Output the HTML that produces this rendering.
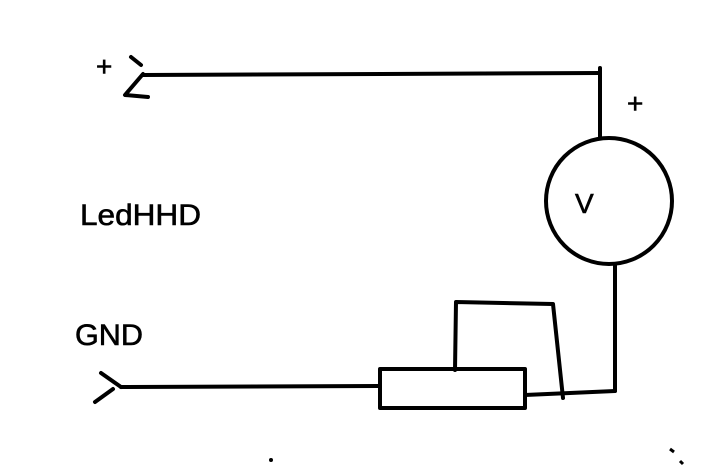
<!DOCTYPE html><html><head><style>body{margin:0;background:#fff}svg{display:block}</style></head><body>
<svg width="717" height="474" viewBox="0 0 717 474" xmlns="http://www.w3.org/2000/svg">
<g stroke="#000" stroke-width="4" fill="none" stroke-linecap="round" stroke-linejoin="round">
<line x1="131" y1="57" x2="141" y2="65"/>
<polyline points="143,74 125,95 148,97"/>
<line x1="143" y1="75" x2="600" y2="73"/>
<line x1="600" y1="68" x2="600" y2="138"/>
<circle cx="609" cy="201" r="63"/>
<line x1="615" y1="264" x2="615" y2="391"/>
<line x1="101" y1="373" x2="121" y2="387"/>
<line x1="95" y1="402" x2="113" y2="389"/>
<line x1="121" y1="387" x2="378" y2="386"/>
<rect x="380" y="369" width="145" height="39"/>
<line x1="525" y1="395" x2="615" y2="391"/>
<polyline points="455,370 456,302 553,304 563,398"/>
</g>
<g font-family="Liberation Sans, sans-serif" fill="#000" stroke="#000" stroke-width="0.6">
<text x="96" y="76" font-size="28">+</text>
<text x="627" y="113" font-size="28">+</text>
<text x="80" y="225" font-size="30" textLength="121" lengthAdjust="spacingAndGlyphs">LedHHD</text>
<text x="75" y="345" font-size="30" textLength="68" lengthAdjust="spacingAndGlyphs">GND</text>
<text x="575" y="213" font-size="28">V</text>
</g>
<circle cx="271" cy="460" r="2" fill="#000"/>
<line x1="670" y1="449" x2="674" y2="452" stroke="#000" stroke-width="3"/>
<line x1="680" y1="461" x2="683" y2="464" stroke="#000" stroke-width="3"/>
</svg></body></html>
